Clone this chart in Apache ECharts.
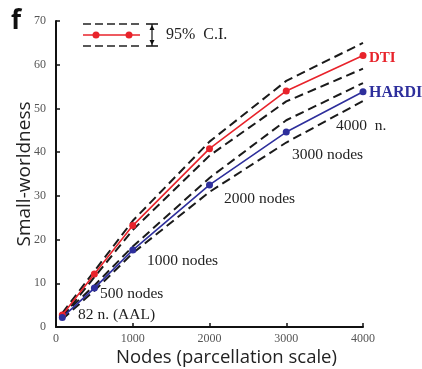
<!DOCTYPE html>
<html>
<head>
<meta charset="utf-8">
<script src="https://cdn.jsdelivr.net/npm/echarts@6/dist/echarts.min.js"></script>
<style>
  html, body { margin: 0; padding: 0; background: #fff; }
  #chart { width: 422px; height: 369px; }
</style>
</head>
<body>
<div id="chart"></div>
<script>
  // parcellation scale (number of nodes)
  const nodes = [82, 500, 1000, 2000, 3000, 4000]

  // small-worldness, mean and 95% C.I. bounds
  const dti = [2.75, 12.1, 23.2, 40.8, 54.0, 62.1]
  const dtiUpper = [3.2, 12.8, 24.3, 42.4, 56.3, 65.0]
  const dtiLower = [2.3, 11.4, 22.2, 39.2, 51.6, 59.1]
  const hardi = [2.2, 8.9, 17.6, 32.5, 44.6, 53.8]
  const hardiUpper = [2.6, 9.5, 18.4, 34.1, 47.3, 55.8]
  const hardiLower = [1.8, 8.3, 16.9, 30.9, 42.2, 51.7]

  const xTicks = [0, 1000, 2000, 3000, 4000]
  const yTicks = [0, 10, 20, 30, 40, 50, 60, 70]

  const RED = '#e8232b'
  const BLUE = '#2e2f9c'
  const serif = '"Liberation Serif", "DejaVu Serif", serif'
  const sans = '"Open Sans", sans-serif'

  const pairs = (ys) => nodes.map((x, i) => [x, ys[i]])

  // dashed confidence bound
  function bound(name, ys) {
    return {
      name: name,
      type: 'line',
      data: pairs(ys),
      symbol: 'none',
      silent: true,
      z: 1,
      lineStyle: { color: '#1a1a1a', width: 2, type: [9, 5] }
    }
  }

  function mean(name, ys, color) {
    return {
      name: name,
      type: 'line',
      data: pairs(ys),
      symbol: 'circle',
      symbolSize: 7,
      z: 3,
      itemStyle: { color: color },
      lineStyle: { color: color, width: 1.6 }
    }
  }

  function note(text, x, y, size, color, weight) {
    return {
      type: 'text', x: x, y: y,
      style: { text: text, font: (weight || 'normal') + ' ' + size + 'px ' + serif, fill: color || '#222', verticalAlign: 'middle' }
    }
  }

  const myChart = echarts.init(document.getElementById('chart'))

  const option = {
    animation: false,
    backgroundColor: '#fff',
    grid: { left: 56, right: 59, top: 21, bottom: 42, containLabel: false, outerBoundsMode: 'none' },
    xAxis: {
      type: 'value',
      min: xTicks[0],
      max: xTicks[xTicks.length - 1],
      interval: 1000,
      name: 'Nodes (parcellation scale)',
      nameLocation: 'middle',
      nameGap: 21,
      nameMoveOverlap: false,
      nameTextStyle: { fontFamily: sans, fontSize: 18.5, color: '#222', padding: [0, 0, 0, 34] },
      axisLine: { lineStyle: { color: '#111', width: 2 } },
      axisTick: { inside: true, length: 4, lineStyle: { color: '#111', width: 1.5 } },
      axisLabel: { fontFamily: serif, fontSize: 12, color: '#555', margin: 6, formatter: (v) => String(v) },
      splitLine: { show: false }
    },
    yAxis: {
      type: 'value',
      min: yTicks[0],
      max: yTicks[yTicks.length - 1],
      interval: 10,
      name: 'Small-worldness',
      nameLocation: 'middle',
      nameGap: 22,
      nameMoveOverlap: false,
      nameTextStyle: { fontFamily: sans, fontSize: 19, color: '#222' },
      axisLine: { show: true, lineStyle: { color: '#111', width: 2 } },
      axisTick: { show: true, inside: true, length: 4, lineStyle: { color: '#111', width: 1.5 } },
      axisLabel: { fontFamily: serif, fontSize: 12, color: '#555', margin: 10 },
      splitLine: { show: false }
    },
    series: [
      bound('DTI upper', dtiUpper),
      bound('DTI lower', dtiLower),
      bound('HARDI upper', hardiUpper),
      bound('HARDI lower', hardiLower),
      mean('DTI', dti, RED),
      mean('HARDI', hardi, BLUE)
    ],
    graphic: [
      // panel label
      { type: 'text', left: 11, top: 9, style: { text: 'f', font: 'bold 26px ' + sans, fill: '#111' } },
      // legend: C.I. band with mean line
      { type: 'line', shape: { x1: 83, y1: 24, x2: 140, y2: 24 }, style: { stroke: '#222', lineWidth: 1.5, lineDash: [8, 4] } },
      { type: 'line', shape: { x1: 83, y1: 46, x2: 140, y2: 46 }, style: { stroke: '#222', lineWidth: 1.5, lineDash: [8, 4] } },
      { type: 'line', shape: { x1: 83, y1: 35, x2: 140, y2: 35 }, style: { stroke: RED, lineWidth: 1.5 } },
      { type: 'circle', shape: { cx: 96, cy: 35, r: 3.5 }, style: { fill: RED } },
      { type: 'circle', shape: { cx: 129, cy: 35, r: 3.5 }, style: { fill: RED } },
      // double arrow
      { type: 'line', shape: { x1: 152, y1: 24, x2: 152, y2: 46 }, style: { stroke: '#111', lineWidth: 1.2 } },
      { type: 'line', shape: { x1: 146, y1: 24, x2: 158, y2: 24 }, style: { stroke: '#111', lineWidth: 1.5 } },
      { type: 'line', shape: { x1: 146, y1: 46, x2: 158, y2: 46 }, style: { stroke: '#111', lineWidth: 1.5 } },
      { type: 'polygon', shape: { points: [[152, 25], [149.5, 30], [154.5, 30]] }, style: { fill: '#111' } },
      { type: 'polygon', shape: { points: [[152, 45], [149.5, 40], [154.5, 40]] }, style: { fill: '#111' } },
      note('95%  C.I.', 166, 35, 16),
      // series names
      note('DTI', 369, 58, 15, RED, 'bold'),
      note('HARDI', 369, 93, 16, BLUE, 'bold'),
      // scale annotations
      note('4000  n.', 336, 126, 15.5),
      note('3000 nodes', 292, 155, 15.5),
      note('2000 nodes', 224, 199, 15.5),
      note('1000 nodes', 147, 261, 15.5),
      note('500 nodes', 100, 294, 15.5),
      note('82 n. (AAL)', 78, 315, 15.5)
    ]
  }

  myChart.setOption(option)
</script>
</body>
</html>
